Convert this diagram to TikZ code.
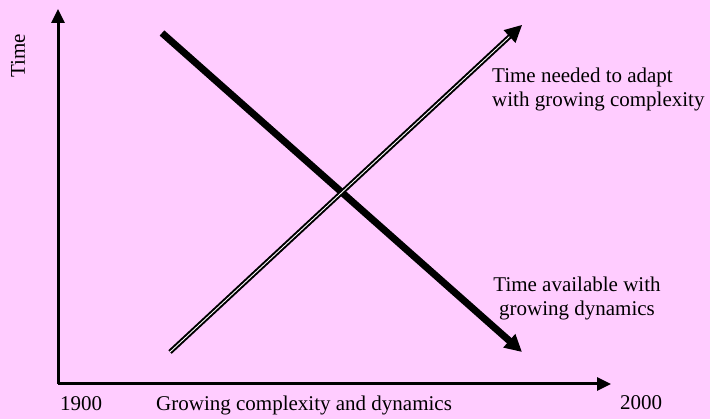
\documentclass[tikz,border=0pt]{standalone}
\usepackage{fontspec}
\setmainfont{Liberation Serif}
\usetikzlibrary{arrows.meta}
\definecolor{bg}{HTML}{FFCCFF}
\begin{document}
\begin{tikzpicture}[x=1pt,y=-1pt,
 lbl/.style={inner sep=0pt, font=\fontsize{21}{24}\selectfont},
 axisline/.style={line width=3pt, -{Triangle[length=14pt,width=13pt]}},
 thickarr/.style={line width=7pt, -{Triangle[length=17pt,width=17pt]}},
 dblarr/.style={line width=2pt, double=white, double distance=0.9pt, -{Triangle[length=17pt,width=17pt]}}]
\fill[bg] (0,0) rectangle (710,419);
\useasboundingbox (0,0) rectangle (710,419);
\coordinate (O) at (58,384);
\coordinate (Ytop) at (58,9);
\coordinate (Xend) at (611,384);
\coordinate (A1) at (162,33);
\coordinate (A2) at (522,352);
\coordinate (B1) at (170,352);
\coordinate (B2) at (522,25);
\draw[axisline] (O) -- (Ytop);
\draw[axisline] (O) -- (Xend);
\draw[thickarr] (A1) -- (A2);
\draw[dblarr] (B1) -- (B2);
\node[lbl, rotate=90] (time) at (18,56) {Time};
\node[lbl, anchor=base west] (y1900) at (60,411) {1900};
\node[lbl, anchor=base west] (xlab) at (156,411) {Growing complexity and dynamics};
\node[lbl, anchor=base west] (y2000) at (620,410) {2000};
\node[lbl, anchor=base west, align=left] (need) at (492,107) {Time needed to adapt\\with growing complexity};
\node[lbl, anchor=base, align=center] (avail) at (577,316) {Time available with\\growing dynamics};
\end{tikzpicture}
\end{document}
